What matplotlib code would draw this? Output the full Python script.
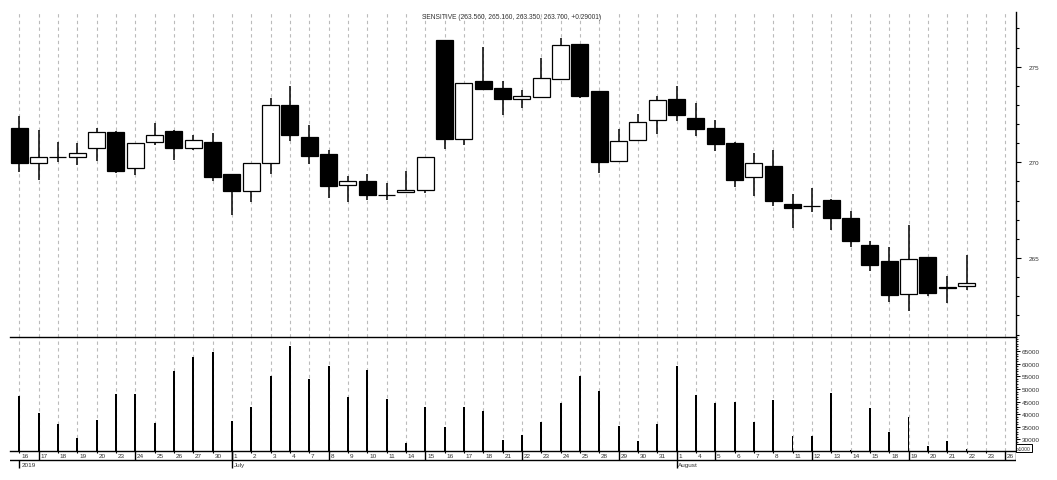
import pandas as pd
import matplotlib.pyplot as plt
from matplotlib.ticker import FixedLocator, MultipleLocator, NullFormatter

plt.rcParams['font.family'] = ['Liberation Sans', 'DejaVu Sans']

# trading days shown on the axis (last two have no data)
dates = ['2019-06-16', '2019-06-17', '2019-06-18', '2019-06-19', '2019-06-20',
         '2019-06-23', '2019-06-24', '2019-06-25', '2019-06-26', '2019-06-27',
         '2019-06-30', '2019-07-01', '2019-07-02', '2019-07-03', '2019-07-04',
         '2019-07-07', '2019-07-08', '2019-07-09', '2019-07-10', '2019-07-11',
         '2019-07-14', '2019-07-15', '2019-07-16', '2019-07-17', '2019-07-18',
         '2019-07-21', '2019-07-22', '2019-07-23', '2019-07-24', '2019-07-25',
         '2019-07-28', '2019-07-29', '2019-07-30', '2019-07-31', '2019-08-01',
         '2019-08-04', '2019-08-05', '2019-08-06', '2019-08-07', '2019-08-08',
         '2019-08-11', '2019-08-12', '2019-08-13', '2019-08-14', '2019-08-15',
         '2019-08-18', '2019-08-19', '2019-08-20', '2019-08-21', '2019-08-22',
         '2019-08-23', '2019-08-26']

opens = [271.80, 269.97, 270.26, 270.26, 270.73, 271.57, 269.69, 271.05, 271.62, 270.73,
         271.05, 269.39, 268.52, 269.95, 272.98, 271.33, 270.42, 268.79, 269.01, 268.31,
         268.43, 268.57, 276.40, 271.21, 274.24, 273.89, 273.31, 273.40, 274.34, 276.19,
         273.73, 270.06, 271.15, 272.20, 273.31, 272.32, 271.80, 271.01, 269.23, 269.81,
         267.82, 267.72, 268.03, 267.09, 265.68, 264.84, 263.12, 265.05, 263.50, 263.56]
highs = [272.44, 271.69, 271.05, 271.01, 271.80, 271.62, 271.00, 272.06, 271.69, 271.43,
         271.53, 269.39, 269.95, 273.36, 273.99, 271.95, 270.65, 269.30, 269.39, 268.91,
         269.56, 270.26, 276.40, 274.13, 276.01, 274.24, 273.78, 275.45, 276.50, 276.19,
         273.73, 271.74, 272.53, 273.45, 274.01, 273.10, 272.21, 271.06, 270.49, 270.65,
         268.35, 268.66, 268.08, 267.46, 265.89, 265.58, 266.73, 265.05, 264.06, 265.16]
lows = [269.51, 269.09, 270.03, 269.88, 270.09, 269.46, 269.35, 270.92, 270.14, 270.66,
        269.03, 267.26, 267.91, 269.41, 271.13, 269.91, 268.14, 267.94, 268.03, 268.03,
        268.40, 268.40, 270.70, 270.92, 273.82, 272.49, 272.84, 273.40, 274.34, 273.36,
        269.44, 270.06, 271.15, 271.48, 272.16, 271.38, 270.59, 268.71, 268.24, 267.72,
        266.57, 267.40, 266.46, 265.58, 264.32, 262.70, 262.23, 263.01, 262.65, 263.35]
closes = [269.98, 270.26, 270.26, 270.47, 271.57, 269.56, 271.00, 271.41, 270.77, 271.15,
          269.25, 268.52, 269.95, 272.98, 271.45, 270.35, 268.78, 269.01, 268.31, 268.31,
          268.56, 270.26, 271.24, 274.13, 273.82, 273.30, 273.48, 274.39, 276.12, 273.48,
          270.03, 271.10, 272.13, 273.24, 272.49, 271.74, 270.96, 269.08, 269.97, 267.98,
          267.61, 267.72, 267.09, 265.89, 264.63, 263.07, 264.95, 263.17, 263.41, 263.70]
volumes = [47340, 40460, 36090, 30400, 37680, 48020, 48020, 36600, 57050, 62620,
           64610, 37400, 42970, 55060, 67000, 54000, 59040, 46950, 57570, 45910,
           28530, 42970, 34770, 42730, 41380, 29720, 31830, 37000, 44440, 55060,
           49100, 35170, 29440, 36210, 59040, 47620, 44320, 44960, 37000, 45630,
           31190, 31190, 48300, 25740, 42450, 32780, 38750, 27450, 29200, 26140]

title = 'SENSITIVE (263.560, 265.160, 263.350, 263.700, +0.29001)'

days = pd.to_datetime(pd.Series(dates))
n_slots = len(dates)
xs = list(range(len(closes)))

W, H = 1057, 481
fig = plt.figure(figsize=(W / 100, H / 100), dpi=100)
left, right = 10 / W, 1016 / W
ax = fig.add_axes([left, 1 - 338 / H, right - left, (338 - 13) / H])
axv = fig.add_axes([left, 1 - 452.3 / H, right - left, (452.3 - 338) / H])
axd = fig.add_axes([left, 1 - 470 / H, right - left, 17.7 / H])

xlim = (-0.48, 51.56)
grid_style = dict(color='#bbbbbb', lw=0.8, ls=(0, (3, 3)))

# --- price panel
ax.set_xlim(xlim)
ax.set_ylim(260.87, 277.86)
for i in xs:
    o, h, l, c = opens[i], highs[i], lows[i], closes[i]
    ax.vlines(i, l, h, color='black', lw=1.1, zorder=2)
    ax.bar(i, abs(c - o), bottom=min(o, c), width=0.88,
           facecolor='white' if c >= o else 'black',
           edgecolor='black', lw=0.9, zorder=3)
ax.set_xticks(range(n_slots))
ax.tick_params(axis='x', length=0, labelbottom=False)
ax.grid(axis='x', **grid_style)
ax.set_axisbelow(True)
for s in ['left', 'top', 'bottom']:
    ax.spines[s].set_visible(False)
ax.spines['right'].set_linewidth(1.0)
ax.yaxis.tick_right()
ax.yaxis.set_major_locator(FixedLocator([265, 270, 275]))
ax.yaxis.set_minor_locator(MultipleLocator(1))
ax.tick_params(axis='y', which='major', length=3.4, width=0.8, pad=6,
               labelsize=4.6, labelcolor='#333333')
ax.tick_params(axis='y', which='minor', length=2.2, width=0.8)

fig.text(512 / W, 1 - 17.3 / H, title, ha='center', va='center',
         fontsize=4.8, color='#333333')

# --- volume panel
axv.set_xlim(xlim)
axv.set_ylim(25226, 70695)
axv.bar(xs, volumes, width=0.1, bottom=0, color='black', zorder=3)
axv.set_xticks(range(n_slots))
axv.tick_params(axis='x', length=0, labelbottom=False)
axv.grid(axis='x', **grid_style)
axv.set_axisbelow(True)
axv.spines['left'].set_visible(False)
for s in ['top', 'right', 'bottom']:
    axv.spines[s].set_linewidth(1.0)
axv.yaxis.tick_right()
axv.yaxis.set_major_locator(FixedLocator(list(range(30000, 70000, 5000))))
axv.yaxis.set_minor_locator(MultipleLocator(1000))
axv.tick_params(axis='y', which='major', length=3.2, width=0.7, pad=1,
                labelsize=4.6, labelcolor='#333333')
axv.tick_params(axis='y', which='minor', length=1.6, width=0.6)
axv.yaxis.set_minor_formatter(NullFormatter())
axv.text(1.001, 0.005, 'x1000', transform=axv.transAxes, ha='left', va='bottom',
         fontsize=3.6, color='#333333',
         bbox=dict(boxstyle='square,pad=0.25', fc='white', ec='black', lw=0.7))

# --- date strip
axd.set_xlim(xlim)
axd.set_ylim(-17.7, 0)
axd.axis('off')
axd.axhline(-8.7, color='black', lw=1.0)
axd.vlines(xlim[1], -8.7, 0, color='black', lw=1.0)
prev_month = None
for i, d in enumerate(days):
    axd.text(i + 0.1, -4.4, str(d.day), ha='left', va='center',
             fontsize=4.6, color='#333333')
    if d.weekday() == 0:
        axd.vlines(i, -8.7, 0, color='black', lw=1.0)
    else:
        axd.vlines(i, -2.0, 0, color='black', lw=0.8)
    if prev_month is None:
        axd.vlines(i, -16.7, -8.7, color='black', lw=1.0)
        axd.text(i + 0.1, -12.9, str(d.year), ha='left', va='center',
                 fontsize=4.6, color='#333333')
    elif d.month != prev_month:
        axd.vlines(i, -16.7, 0, color='black', lw=1.0)
        axd.text(i + 0.1, -12.9, d.strftime('%B'), ha='left', va='center',
                 fontsize=4.6, color='#333333')
    prev_month = d.month

fig.savefig('out.png', dpi=100)
